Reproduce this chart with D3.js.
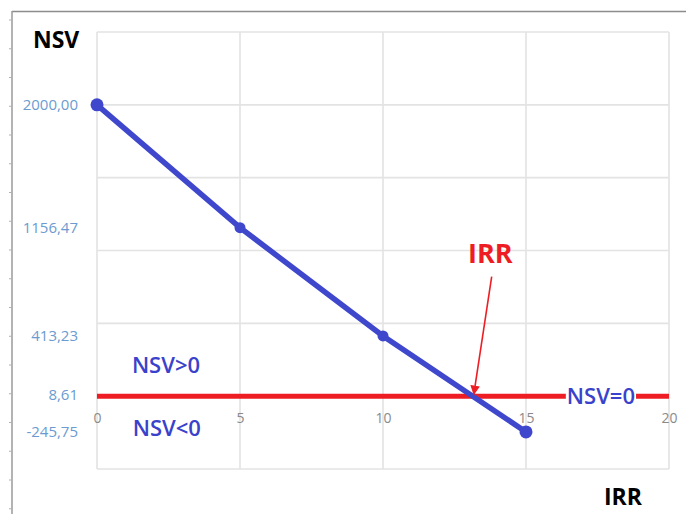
<!DOCTYPE html>
<html>
<head>
<meta charset="utf-8">
<script src="https://cdn.jsdelivr.net/npm/d3@7"></script>
<style>
  body { margin: 0; background: #fff; }
  svg { display: block; font-family: "Open Sans", sans-serif; }
</style>
</head>
<body>
<figure id="chart" style="margin:0"></figure>
<script>
// data
const irr = [0, 5, 10, 15];
const nsv = [2000, 1156.47, 413.23, -245.75];
const yLabels = [2000, 1156.47, 413.23, 8.61, -245.75];
const xTicks = [0, 5, 10, 15, 20];

const width = 686, height = 514;
const svg = d3.select("#chart").append("svg")
  .attr("width", width)
  .attr("height", height);

// scales
const x = d3.scaleLinear().domain([0, 20]).range([97, 669]);
const y = d3.scaleLinear().domain([-500, 2500]).range([469, 32]);

// outer frame (top and left edges with small ticks)
svg.append("line")
  .attr("x1", 12).attr("x2", width).attr("y1", 11.5).attr("y2", 11.5)
  .attr("stroke", "#8c8c8c").attr("stroke-width", 1.5);
svg.append("line")
  .attr("x1", 12).attr("x2", 12).attr("y1", 11).attr("y2", height)
  .attr("stroke", "#9a9a9a").attr("stroke-width", 1.5);
svg.append("g")
  .selectAll("line")
  .data(d3.range(20, height, 28.75))
  .enter()
  .append("line")
  .attr("x1", 9).attr("x2", 12)
  .attr("y1", d => d).attr("y2", d => d)
  .attr("stroke", "#b0b0b0");

// grid
const grid = svg.append("g").attr("stroke", "#e3e3e3").attr("stroke-width", 1.6);
grid.selectAll(".vx")
  .data(x.ticks(4))
  .enter()
  .append("line")
  .attr("x1", d => x(d)).attr("x2", d => x(d))
  .attr("y1", y(2500)).attr("y2", y(-500));
grid.selectAll(".hy")
  .data(y.ticks(6))
  .enter()
  .append("line")
  .attr("x1", x(0)).attr("x2", x(20))
  .attr("y1", d => y(d)).attr("y2", d => y(d));

// y labels at data values
const fmt = d => d3.format(".2f")(d).replace(".", ",").replace("\u2212", "-");
const yAxis = svg.append("g")
  .attr("transform", "translate(78,0)")
  .call(d3.axisLeft(y).tickValues(yLabels).tickFormat(fmt).tickSize(0).tickPadding(0));
yAxis.select(".domain").remove();
yAxis.selectAll("text")
  .attr("fill", "#6b9bd0")
  .style("font-family", "'Open Sans', sans-serif")
  .style("font-size", "15px");

// x labels, just below the zero line
const xAxis = svg.append("g")
  .attr("transform", "translate(0," + y(0) + ")")
  .call(d3.axisBottom(x).tickValues(xTicks).tickSize(0).tickPadding(17));
xAxis.select(".domain").remove();
xAxis.selectAll("text")
  .attr("fill", "#8a8a8a")
  .style("font-family", "'Open Sans', sans-serif")
  .style("font-size", "14px");

// zero line
svg.append("line")
  .attr("x1", x(0)).attr("x2", x(20))
  .attr("y1", y(0)).attr("y2", y(0))
  .attr("stroke", "#ee1d23").attr("stroke-width", 5);

// NSV line
const pts = irr.map((d, i) => [d, nsv[i]]);
svg.append("path")
  .datum(pts)
  .attr("fill", "none")
  .attr("stroke", "#3f48cc")
  .attr("stroke-width", 5.5)
  .attr("d", d3.line().x(d => x(d[0])).y(d => y(d[1])));
svg.selectAll(".pt")
  .data(pts)
  .enter()
  .append("circle")
  .attr("cx", d => x(d[0]))
  .attr("cy", d => y(d[1]))
  .attr("r", (d, i) => (i === 0 || i === pts.length - 1) ? 6.5 : 5.5)
  .attr("fill", "#3f48cc");

// IRR: where the line crosses zero
const k = nsv[2] / (nsv[2] - nsv[3]);
const irrVal = irr[2] + k * (irr[3] - irr[2]);

svg.append("defs").append("marker")
  .attr("id", "arr")
  .attr("viewBox", "0 0 10 10")
  .attr("refX", 10).attr("refY", 5)
  .attr("markerWidth", 6).attr("markerHeight", 6)
  .attr("orient", "auto")
  .append("path")
  .attr("d", "M0,0L10,5L0,10z")
  .attr("fill", "#ee1d23");

svg.append("line")
  .attr("x1", x(13.8)).attr("y1", y(820))
  .attr("x2", x(irrVal) + 1).attr("y2", y(0) - 1)
  .attr("stroke", "#ee1d23").attr("stroke-width", 1.6)
  .attr("marker-end", "url(#arr)");

svg.append("text")
  .attr("x", x(13.75)).attr("y", y(915))
  .attr("text-anchor", "middle")
  .attr("fill", "#ee1d23")
  .style("font-size", "27px").style("font-weight", "bold")
  .text("IRR");

// region labels
const blue = "#3a42cc";
svg.append("text")
  .attr("x", x(1.22)).attr("y", y(0) - 23)
  .attr("fill", blue).style("font-size", "22px").style("font-weight", 600)
  .text("NSV>0");
svg.append("text")
  .attr("x", x(1.25)).attr("y", y(0) + 40)
  .attr("fill", blue).style("font-size", "22px").style("font-weight", 600)
  .text("NSV<0");

const z = svg.append("g");
const zt = z.append("text")
  .attr("x", x(17.62)).attr("y", y(0) + 8)
  .attr("text-anchor", "middle")
  .attr("fill", blue).style("font-size", "22px").style("font-weight", 600)
  .text("NSV=0");
const bb = zt.node().getBBox();
z.insert("rect", "text")
  .attr("x", bb.x - 1).attr("y", y(0) - 4)
  .attr("width", bb.width + 2).attr("height", 8)
  .attr("fill", "#fff");

// axis titles
svg.append("text")
  .attr("x", 33).attr("y", 48)
  .attr("fill", "#000")
  .style("font-size", "23px").style("font-weight", "bold")
  .text("NSV");
svg.append("text")
  .attr("x", 604).attr("y", 505)
  .attr("fill", "#000")
  .style("font-size", "23px").style("font-weight", "bold")
  .text("IRR");
</script>
</body>
</html>
